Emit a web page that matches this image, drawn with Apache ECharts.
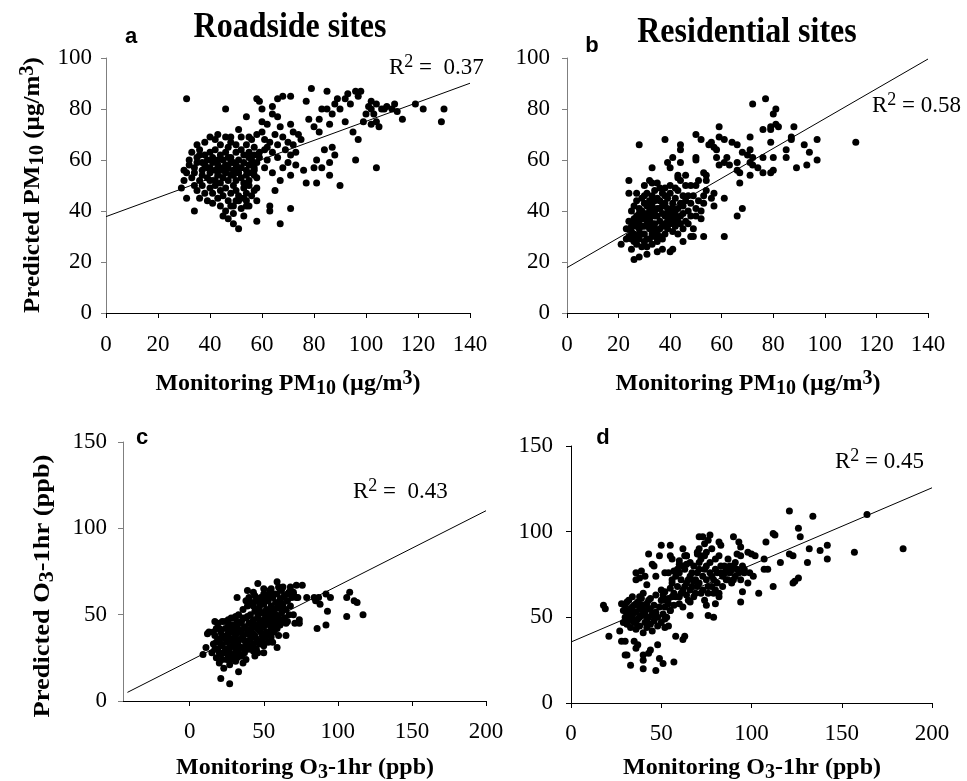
<!DOCTYPE html>
<html>
<head>
<meta charset="utf-8">
<script src="https://cdn.jsdelivr.net/npm/echarts@6/dist/echarts.min.js"></script>
<style>
html,body{margin:0;padding:0;background:#fff;}
#main{width:967px;height:781px;}
</style>
</head>
<body>
<div id="main"></div>
<script>
// ---------- data ----------
const xTicksAB = [0, 20, 40, 60, 80, 100, 120, 140];
const yTicksAB = [0, 20, 40, 60, 80, 100];
const xTicksCD = [0, 50, 100, 150, 200];
const yTicksCD = [0, 50, 100, 150];

// panel a: Roadside PM10 (monitoring, predicted)
const ptsA = [
[31,84],[29,49],[30,56],[31,45],[34,40],[46,80],[54,77],[58,84],[59,83],[60,80],[66,84],[68,85],[71,85],[64,81],[79,88],[85,87],[77,83],[89,84],[92,84],[97,85],[96,87],[98,87],[102,83],[104,82],[108,81],[111,82],[119,82],[122,80],[130,80],[129,75],[114,76],[104,57],[90,50],[86,54],[86,59],[81,51],[77,51],[80,57],[81,60],[83,57],[96,60],[97,68],[95,71],[99,75],[102,74],[105,73],[87,65],[87,78],[86,74],[82,76],[80,73],[78,76],[82,71],[90,80],[94,82],[102,80],[103,78],[75,68],[73,63],[76,56],[71,54],[70,59],[71,62],[71,74],[72,71],[70,67],[68,69],[67,73],[66,77],[64,78],[60,71],[61,68],[62,65],[59,63],[62,60],[64,55],[67,52],[65,48],[63,42],[63,40],[67,35],[71,41],[66,61],[61,57],[59,61],[57,65],[55,61],[57,56],[58,49],[58,44],[58,36],[54,42],[53,45],[53,38],[51,33],[49,35],[47,37],[46,40],[49,42],[51,44],[46,69],[48,69],[51,72],[55,69],[52,69],
[72,66],[74,70],[69,64],[73,58],[68,57],[66,66],[65,70],[63,67],[62,74],[60,75],[58,70],[61,64],[64,63],[84,64],[88,62],[92,75],[85,80],[88,82],[100,78],[107,80],[110,80],[112,79],[101,81],[104,75],[106,80],[83,80],[93,86],
[33,63],[35,61],[36,64],[38,62],[39,60],[40,63],[41,61],[42,64],[44,62],[45,60],[46,63],[47,65],[48,61],[50,63],[51,60],[52,64],[53,62],[55,63],[56,60],[57,62],
[32,58],[34,57],[35,59],[37,56],[38,58],[40,57],[41,59],[43,58],[44,56],[46,58],[47,57],[48,59],[49,56],[50,58],[52,57],[53,59],[54,56],[56,58],[57,57],[58,59],
[33,53],[34,55],[36,52],[37,54],[39,53],[40,55],[42,52],[43,54],[45,53],[46,55],[47,52],[49,54],[50,52],[51,55],[52,53],[54,54],[55,52],[56,55],[58,53],
[34,50],[35,48],[37,50],[38,47],[40,49],[41,47],[42,50],[44,48],[45,46],[46,49],[48,47],[49,50],[50,48],[51,46],[53,49],[54,47],[55,50],[57,48],
[36,45],[39,44],[41,43],[43,45],[44,42],[47,44],[48,42],[50,44],[52,41],[54,44],[56,46],[55,42],[45,38],[49,39],
[35,66],[38,67],[42,68],[44,66],[48,67],[50,66],[54,66],[56,68],[43,70],[40,69],
[30,52],[31,55],[32,60],[36,62],[39,57],[42,56],[45,57],[47,61],[49,59],[51,57],[53,51],[55,58],[57,54],[48,54],[44,51],[40,52],[37,59],[43,60]
];
const lineA = [[0,37.8],[140,90.1]];

// panel b: Residential PM10
const ptsB = [
[28,66],[38,68],[24,52],[24,47],[21,27],[23,29],[25,25],[26,21],[28,22],[31,23],[35,24],[37,25],[41,25],[40,24],[45,28],[33,57],[33,51],[39,59],[40,57],[44,66],[44,64],[44,59],[41,61],[50,61],[50,60],[50,70],[52,68],[55,66],[56,67],[57,65],[58,64],[59,73],[59,69],[61,68],[64,67],[66,66],[62,61],[58,61],[59,58],[61,59],[63,58],[66,59],[66,56],[67,55],[67,51],[68,63],[70,62],[71,69],[72,82],[71,64],[72,61],[71,59],[71,54],[72,58],[74,57],[76,72],[77,84],[79,72],[79,73],[80,78],[81,80],[81,74],[82,73],[79,67],[76,61],[76,55],[79,55],[80,56],[80,61],[85,64],[85,61],[87,68],[87,69],[88,73],[89,57],[92,66],[94,63],[93,58],[97,60],[97,68],[112,67],[66,38],[68,41],[61,30],[61,45],[53,30],[52,37],[49,33],[49,30],[48,30],[53,43],[53,46],[56,45],[57,42],[57,47],[54,48],[54,52],[54,54],[53,55],[51,52],[50,50],[48,50],[46,50],[46,54],[44,52],[43,54],[43,53],
[25,32],[26,35],[27,30],[27,38],[28,33],[28,36],[29,31],[29,40],[30,34],[30,37],[31,29],[31,42],[32,33],[32,36],[33,31],[33,39],[34,35],[34,44],[35,32],[35,38],[36,36],[36,41],[37,34],[37,47],[38,38],[38,43],[39,36],[39,45],[40,40],[40,47],[41,38],[41,43],[42,45],[42,40],[43,48],[44,43],[45,46],[44,38],[43,36],[42,34],
[26,28],[27,27],[28,29],[29,26],[30,28],[31,26],[32,29],[33,27],[34,30],[35,28],[36,30],[37,29],[38,31],[39,33],[40,35],[41,32],[30,31],[28,31],[26,31],[25,29],
[25,40],[26,42],[27,44],[28,41],[29,45],[30,43],[31,47],[32,44],[33,46],[34,48],[35,45],[36,49],[31,38],[29,37],[27,34],[24,36],[23,33],[24,30],[35,41],[33,42],
[32,37],[33,35],[34,33],[30,39],[31,35],[36,33],[37,39],[38,35],[39,41],[40,37],[41,36],[42,38],[43,41],[45,42],[46,44],[47,46],[48,43],[45,39],[47,40],[44,35],
[27,47],[30,50],[32,52],[35,51],[38,49],[40,50],[42,49],[36,44],[29,34],[28,39],[26,37],[25,34],[34,38],[37,42],[39,39],[41,41],[38,46],[34,40],[32,40],[30,46],
[46,36],[48,38],[50,41],[51,44],[52,40],[49,46],[50,38],[47,35],[45,33],[43,31]
];
const lineB = [[0,17.8],[140,99.6]];

// panel c: Roadside O3-1hr
const ptsC = [
[9,27],[11,31],[13,40],[12,39],[17,46],[21,13],[27,10],[33,17],[36,22],[32,60],[39,64],[43,63],[46,68],[50,59],[50,65],[54,64],[59,69],[61,65],[63,66],[68,64],[70,62],[72,67],[76,67],[73,60],[79,60],[84,60],[85,58],[87,60],[88,56],[92,62],[95,60],[93,52],[92,44],[86,42],[106,49],[106,60],[108,63],[111,58],[113,57],[117,50],[74,47],[74,45],[71,45],[66,46],[65,38],[59,31],[53,34],[50,28],[44,26],[38,24],
[15,28],[16,33],[17,38],[18,25],[18,42],[19,30],[19,45],[20,35],[20,22],[21,40],[21,27],[22,32],[22,46],[23,37],[23,19],[24,42],[24,29],[25,34],[25,24],[26,39],[26,47],[27,31],[27,21],[28,36],[28,44],[29,26],[29,40],[30,33],[30,48],[31,23],[31,38],[32,43],[32,29],[33,35],[33,50],[34,26],[34,41],[35,46],[35,31],[36,37],[36,53],[37,28],[37,43],[38,48],[38,33],[39,39],[39,55],[40,30],[40,45],[41,50],[41,36],[42,42],[42,57],[43,33],[43,47],[44,52],[44,38],[45,44],[45,58],[46,35],[46,49],[47,54],[47,41],[48,46],[48,60],[49,38],[49,51],[50,56],[50,43],[51,48],[51,61],[52,40],[52,53],[53,58],[53,45],[54,50],[54,63],[55,42],[55,55],[56,47],[56,60],[57,52],[58,57],[58,44],[59,62],[59,49],[60,54],[61,59],[61,46],[62,64],[62,51],[63,56],[64,61],[64,48],[65,53],[66,58],[67,63],[68,55],[69,60],[70,50],
[17,30],[19,36],[21,33],[23,28],[25,30],[27,35],[29,32],[31,30],[33,28],[35,36],[24,36],[26,26],[28,24],[30,27],[32,25],[22,24],[20,28],[18,34],[16,40],[20,42],
[26,43],[28,48],[30,42],[32,46],[34,45],[36,48],[38,42],[40,40],[42,37],[44,44],[46,42],[48,40],[50,46],[52,48],[54,44],[56,52],[58,50],[60,48],[45,52],[43,55],
[24,46],[22,38],[27,42],[29,36],[31,34],[33,40],[35,40],[37,35],[39,34],[41,31],[43,29],[45,30],[47,33],[49,35],[51,37],[53,39],[55,37],[57,40],[59,42],[61,44],
[38,58],[40,60],[44,61],[47,57],[50,62],[53,60],[55,65],[57,62],[60,66],[63,60],[66,62],[68,66],[70,63],[72,60],[65,45],[67,50],[60,38],[56,34],[50,32],[46,28],
[25,38],[27,28],[29,44],[31,49],[33,32],[35,26],[37,31],[39,49],[41,45],[43,39],[45,36],[47,47],[49,44],[51,52],[53,50],[55,48],[57,46],[59,54],[61,56],[63,53]
];
const lineC = [[-42,5],[200,110.2]];

// panel d: Residential O3-1hr
const ptsD = [
[18,57],[19,55],[21,39],[27,42],[28,36],[30,36],[30,28],[31,28],[33,22],[35,36],[36,32],[37,34],[40,28],[40,20],[40,25],[43,29],[44,31],[47,19],[48,34],[49,26],[51,23],[57,24],[58,39],[62,37],[63,39],[43,87],[50,92],[55,92],[62,90],[49,86],[45,81],[46,80],[55,86],[56,84],[36,76],[39,77],[36,72],[38,73],[41,74],[42,69],[47,74],[52,76],[54,76],[50,66],[51,63],[52,49],[52,44],[54,45],[55,54],[56,72],[57,77],[60,83],[60,81],[63,86],[64,81],[64,86],[66,51],[66,66],[68,71],[70,87],[71,90],[71,97],[73,97],[77,98],[76,95],[74,93],[75,88],[72,86],[71,82],[76,51],[79,50],[75,57],[80,58],[82,62],[82,94],[83,92],[90,97],[93,94],[94,91],[94,86],[92,87],[98,88],[100,87],[102,86],[96,78],[99,76],[101,74],[98,70],[95,65],[94,59],[104,64],[107,84],[108,94],[107,78],[109,78],[112,68],[112,99],[113,98],[116,82],[121,112],[121,87],[123,86],[123,70],[124,71],[126,73],[126,102],[127,97],[131,82],[132,90],[134,109],[138,89],[142,92],[142,84],[157,88],[164,110],[184,90],
[28,58],[29,54],[30,50],[30,57],[31,46],[31,53],[32,60],[32,48],[33,55],[33,44],[34,51],[34,62],[35,57],[35,47],[36,53],[36,43],[37,59],[37,49],[38,55],[38,45],[39,61],[39,51],[40,57],[40,41],[41,47],[41,53],[42,58],[42,44],[43,50],[43,55],[44,46],[44,61],[45,52],[45,42],[46,57],[46,48],[47,53],[47,63],[48,50],[48,45],[49,56],[50,60],[50,47],[51,52],[52,65],[52,56],[53,50],[54,61],[55,54],[55,67],
[29,47],[31,59],[33,49],[35,53],[37,45],[39,57],[41,51],[43,60],[36,58],[38,50],[40,54],[42,48],[44,55],[46,51],[34,56],[32,52],[30,54],[36,48],[38,62],[40,64],
[56,70],[57,64],[58,74],[59,68],[60,62],[61,72],[62,66],[63,78],[64,70],[65,60],[66,74],[67,68],[68,80],[69,64],[70,76],[71,70],[72,84],[73,66],[74,78],[75,72],[76,68],[77,82],[78,74],[79,64],[80,78],[81,70],[82,86],[83,76],[84,68],[85,80],[86,72],[87,84],[88,76],[89,70],[90,80],[91,74],[92,78],[94,72],[95,80],[96,76],
[58,62],[60,58],[62,56],[64,63],[66,59],[68,62],[70,68],[72,64],[74,60],[76,64],[78,68],[80,66],[82,64],[84,74],[86,78],[88,80],[90,72],[66,82],[64,86],[62,80],[60,76],[70,88],[74,86],[78,90],[80,84],[56,62],[54,58],[52,60],[57,57],[59,78],
[61,64],[63,68],[65,72],[67,76],[69,72],[71,78],[73,74],[75,80],[77,76],[79,72],[81,76],[83,80],[85,76],[87,72],[89,78],[91,82],[93,76]
];
const lineD = [[0,35.6],[200,125.6]];

const r2Values = ['0.37', '0.58', '0.43', '0.45'];
const panelTitles = ['Roadside sites', 'Residential sites'];
const panelLetters = ['a', 'b', 'c', 'd'];

// ---------- chart ----------
const SERIF = '"Liberation Serif", "Times New Roman", serif';
const SANS = '"Liberation Sans", Arial, sans-serif';
const GRAY = '#7f7f7f';

function xAxisCfg(gi, min, max, ticks, labelMargin) {
  return {
    type: 'value', gridIndex: gi, min: min, max: max,
    splitLine: {show: false},
    axisLine: {show: true, onZero: false, lineStyle: {color: '#000', width: 1}},
    axisTick: {show: true, inside: false, length: 5, customValues: ticks, lineStyle: {color: '#000'}},
    axisLabel: {show: true, customValues: ticks, margin: labelMargin, color: '#000',
      fontFamily: SERIF, fontSize: 23},
  };
}
function yAxisCfg(gi, min, max, ticks, labelMargin, color) {
  return {
    type: 'value', gridIndex: gi, min: min, max: max,
    splitLine: {show: false},
    axisLine: {show: true, onZero: false, lineStyle: {color: color, width: 1}},
    axisTick: {show: true, inside: false, length: 5, customValues: ticks, lineStyle: {color: color}},
    axisLabel: {show: true, customValues: ticks, margin: labelMargin, color: '#000',
      fontFamily: SERIF, fontSize: 23},
  };
}
function scatter(i, data) {
  return {type: 'scatter', xAxisIndex: i, yAxisIndex: i, data: data, symbolSize: 7,
    itemStyle: {color: '#000', opacity: 1}, silent: true, z: 2};
}
function fitLine(i, data) {
  return {type: 'line', xAxisIndex: i, yAxisIndex: i, data: data, symbol: 'none',
    lineStyle: {color: '#000', width: 1}, silent: true, z: 3};
}

const nameRich = {
  b: {fontFamily: SERIF, fontWeight: 'bold', fontSize: 24, lineHeight: 30, fill: '#000'},
  sub: {fontFamily: SERIF, fontWeight: 'bold', fontSize: 20, verticalAlign: 'bottom', fill: '#000'},
  sup: {fontFamily: SERIF, fontWeight: 'bold', fontSize: 20, verticalAlign: 'top', fill: '#000'}
};
const r2Rich = {
  r: {fontFamily: SERIF, fontSize: 23, lineHeight: 30, fill: '#000'},
  s: {fontFamily: SERIF, fontSize: 18, verticalAlign: 'top', fill: '#000'}
};

function richText(x, y, text, rich, align, rotation, sx) {
  return {type: 'text', x: x, y: y, rotation: rotation || 0, scaleX: sx || 1, silent: true,
    style: {text: text, rich: rich, align: align, verticalAlign: 'middle',
      textAlign: align, textVerticalAlign: 'middle'}};
}
function plainText(x, y, text, font, sy) {
  return {type: 'text', x: x, y: y, scaleY: sy || 1, silent: true,
    style: {text: text, font: font, fill: '#000', align: 'center', verticalAlign: 'middle',
      textAlign: 'center', textVerticalAlign: 'middle'}};
}
const r2 = v => '{r|R}{s|2}{r| = ' + v + '}';
const r2w = v => '{r|R}{s|2}{r| =  ' + v + '}';

const option = {
  animation: false,
  backgroundColor: '#fff',
  grid: [
    {left: 106, top: 58, width: 364, height: 255},
    {left: 567, top: 58, width: 361, height: 255},
    {left: 123, top: 442, width: 363, height: 259},
    {left: 571, top: 446, width: 361, height: 257}
  ],
  xAxis: [
    xAxisCfg(0, 0, 140, xTicksAB, 20),
    xAxisCfg(1, 0, 140, xTicksAB, 20),
    xAxisCfg(2, -45, 200, xTicksCD, 19),
    xAxisCfg(3, 0, 200, xTicksCD, 19)
  ],
  yAxis: [
    yAxisCfg(0, 0, 100, yTicksAB, 14, GRAY),
    yAxisCfg(1, 0, 100, yTicksAB, 17, GRAY),
    yAxisCfg(2, 0, 150, yTicksCD, 16, GRAY),
    yAxisCfg(3, 0, 150, yTicksCD, 18, '#000')
  ],
  series: [
    scatter(0, ptsA), fitLine(0, lineA),
    scatter(1, ptsB), fitLine(1, lineB),
    scatter(2, ptsC), fitLine(2, lineC),
    scatter(3, ptsD), fitLine(3, lineD)
  ],
  graphic: [
    plainText(290, 28, panelTitles[0], 'bold 32px ' + SERIF, 1.12),
    plainText(747, 33, panelTitles[1], 'bold 32px ' + SERIF, 1.12),
    plainText(131, 37, panelLetters[0], 'bold 22px ' + SANS),
    plainText(592, 46, panelLetters[1], 'bold 22px ' + SANS),
    plainText(142, 438, panelLetters[2], 'bold 22px ' + SANS),
    plainText(603, 438, panelLetters[3], 'bold 22px ' + SANS),
    richText(389, 68, r2w(r2Values[0]), r2Rich, 'left'),
    richText(872, 106, r2(r2Values[1]), r2Rich, 'left'),
    richText(353, 492, r2w(r2Values[2]), r2Rich, 'left'),
    richText(835, 462, r2(r2Values[3]), r2Rich, 'left'),
    // axis names
    richText(288, 384, '{b|Monitoring PM}{sub|10}{b| (µg/m}{sup|3}{b|)}', nameRich, 'center'),
    richText(748, 384, '{b|Monitoring PM}{sub|10}{b| (µg/m}{sup|3}{b|)}', nameRich, 'center'),
    richText(305, 768, '{b|Monitoring O}{sub|3}{b|-1hr (ppb)}', nameRich, 'center'),
    richText(752, 768, '{b|Monitoring O}{sub|3}{b|-1hr (ppb)}', nameRich, 'center'),
    richText(33, 185, '{b|Predicted PM}{sub|10}{b| (µg/m}{sup|3}{b|)}', nameRich, 'center', Math.PI / 2, 1.04),
    richText(43, 586, '{b|Predicted O}{sub|3}{b|-1hr (ppb)}', nameRich, 'center', Math.PI / 2, 1.1)
  ]
};

const chart = echarts.init(document.getElementById('main'), null, {renderer: 'canvas'});
chart.setOption(option);
</script>
</body>
</html>
